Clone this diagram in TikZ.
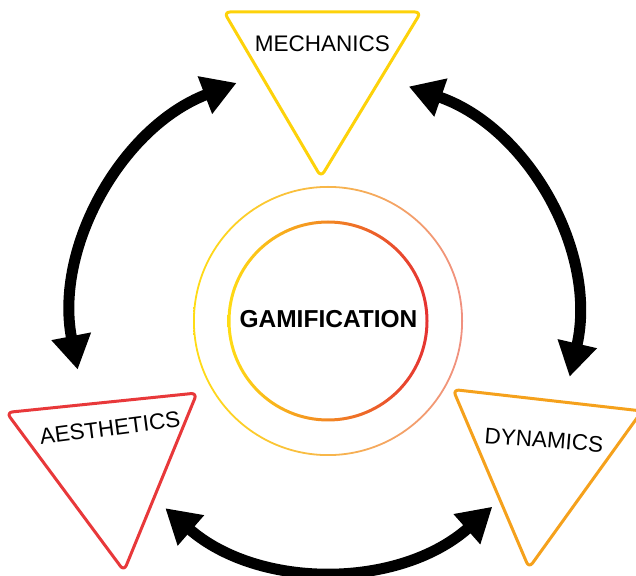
\documentclass[tikz,border=0pt]{standalone}
\usepackage{fontspec}
\setmainfont{Liberation Sans}
\usetikzlibrary{arrows.meta}
\definecolor{mechyellow}{HTML}{FDD20A}
\definecolor{aestred}{HTML}{E8383A}
\definecolor{dynorange}{HTML}{F5A11C}
\definecolor{ringyellow}{HTML}{FFDC14}
\definecolor{ringorange}{HTML}{F8AE2C}
\definecolor{ringred}{HTML}{E53232}
\definecolor{ringpink}{HTML}{F09080}
\begin{document}
\begin{tikzpicture}[x=1pt,y=1pt,
  tri/.style={line width=3pt, rounded corners=6pt, line join=round},
  lbl/.style={font=\fontsize{22.5}{26}\selectfont, inner sep=0pt, text=black},
  link/.style={line width=11pt,
    {Triangle[length=34pt,width=38pt]}-{Triangle[length=34pt,width=38pt]}}]
\useasboundingbox (0,0) rectangle (636,575);
\clip (0,0) rectangle (636,575);

% centre of the whole figure
\coordinate (C) at (328,254);

% two gradient rings around the core idea
\shade[even odd rule, left color=ringyellow, middle color=ringorange, right color=ringpink]
  (C) circle (135) circle (133.2);
\shade[even odd rule, left color=ringyellow, middle color=ringorange, right color=ringred]
  (C) circle (100.5) circle (97.5);
\node[font=\fontsize{24.5}{28}\selectfont\bfseries, inner sep=0pt] (gam) at (328.5,256) {GAMIFICATION};

% the three elements
\coordinate (m1) at (224,563);
\coordinate (m2) at (421,563);
\coordinate (m3) at (321,398);
\draw[tri, mechyellow] (m1) -- (m2) -- (m3) -- cycle;
\node[lbl] (mech) at (322.5,531.5) {MECHANICS};

\coordinate (a1) at (6.5,162.5);
\coordinate (a2) at (197,182);
\coordinate (a3) at (124,4);
\draw[tri, aestred] (a1) -- (a2) -- (a3) -- cycle;
\node[lbl, rotate=7.5] (aest) at (110,147) {AESTHETICS};

\coordinate (d1) at (453,185.5);
\coordinate (d2) at (642,164);
\coordinate (d3) at (529,7);
\draw[tri, dynorange] (d1) -- (d2) -- (d3) -- cycle;
\node[lbl, rotate=-4.5] (dyn) at (544,135) {DYNAMICS};

% curved two-way links between the elements
\coordinate (la) at ([shift={(191:255)}]C);
\coordinate (ra) at ([shift={(71:248)}]C);
\coordinate (ba) at ([shift={(229:248)}]C);
\draw[link] (la) arc[start angle=191, end angle=111, radius=255];
\draw[link] (ra) arc[start angle=71, end angle=-13, radius=248];
\draw[link] (ba) arc[start angle=229, end angle=311.5, radius=248];
\end{tikzpicture}
\end{document}
